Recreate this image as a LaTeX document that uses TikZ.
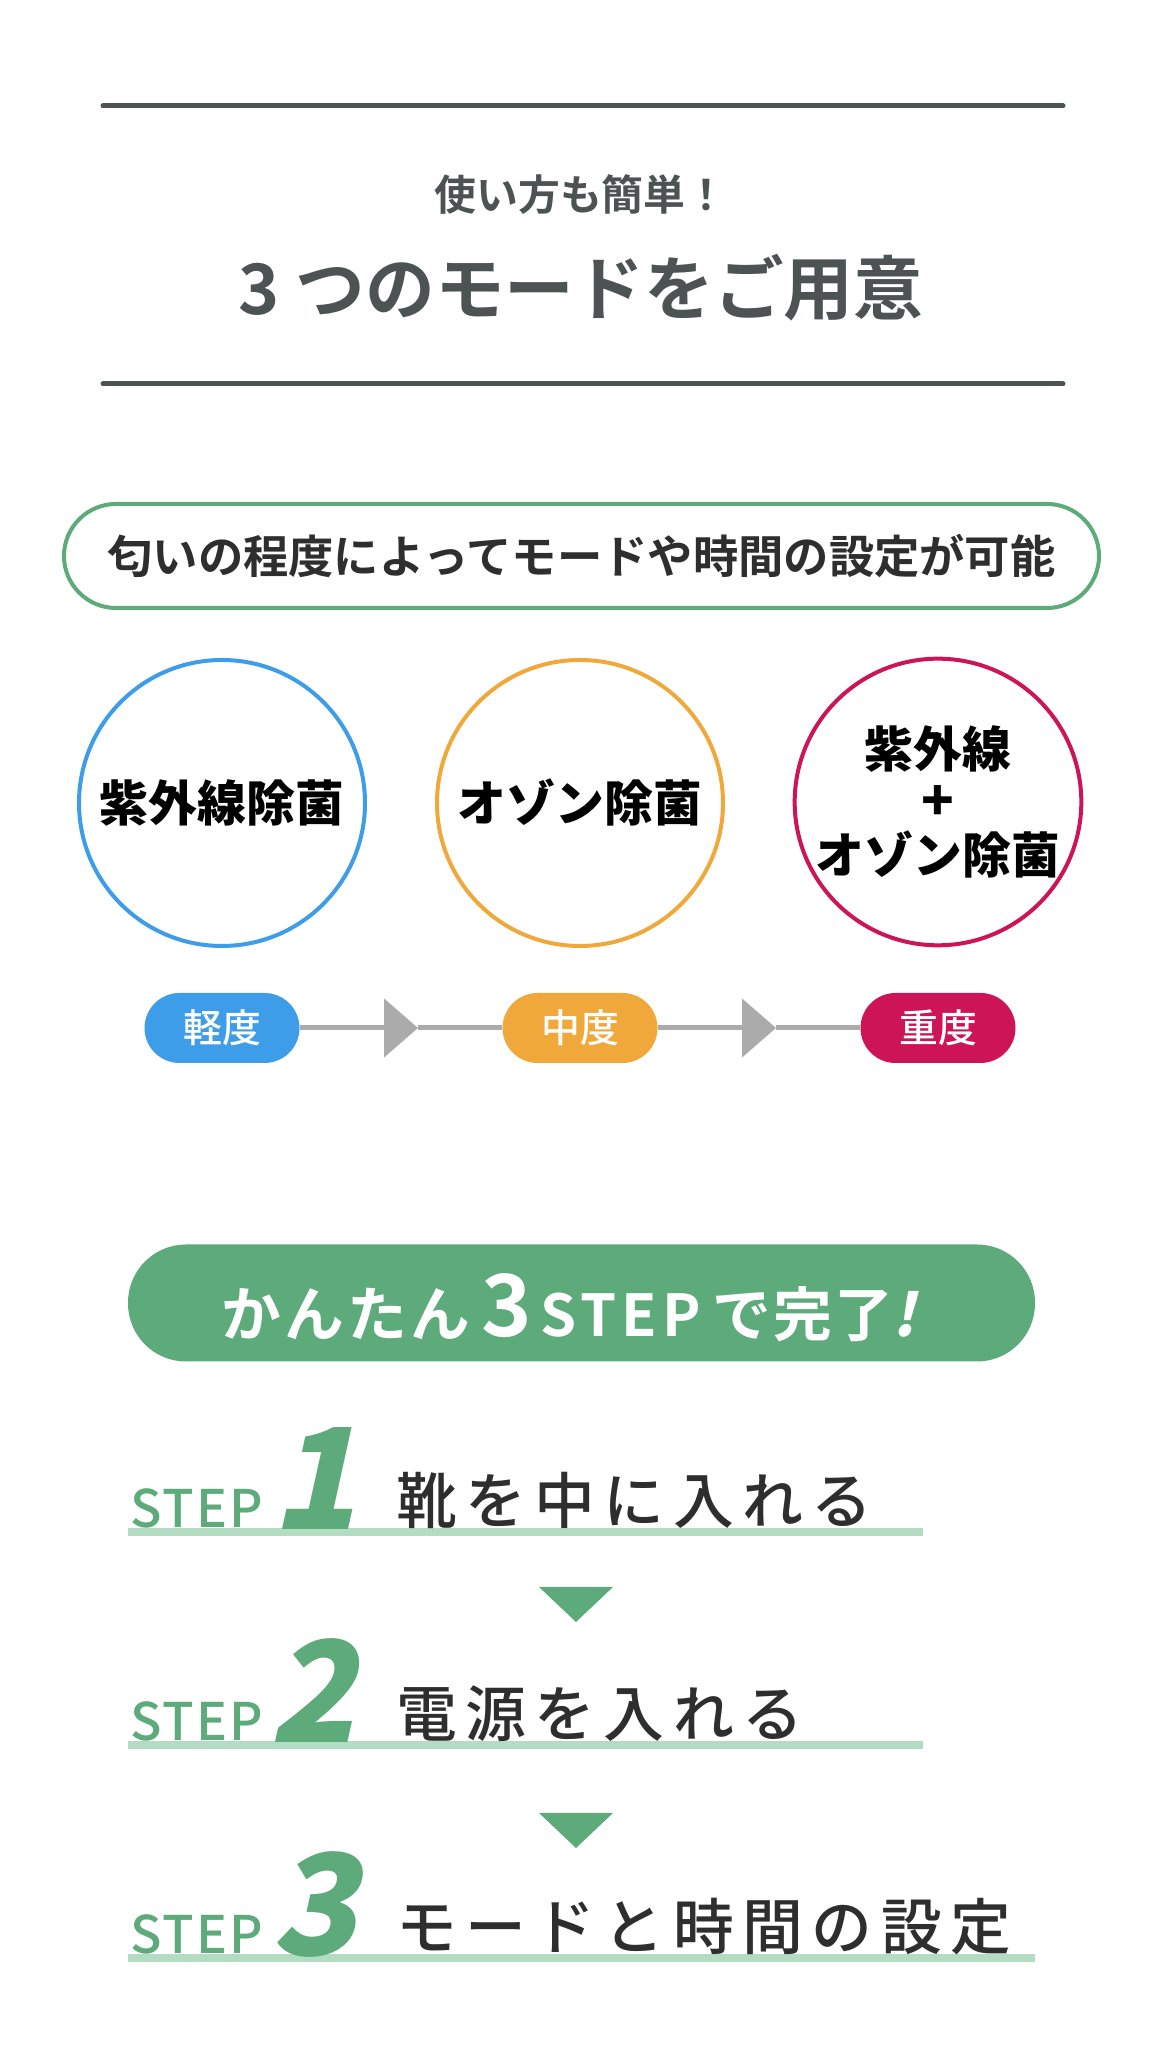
\documentclass[tikz,border=0pt]{standalone}
\usepackage{fontspec}
\setmainfont{Noto Sans CJK JP}
\newfontfamily\jpmedium{Noto Sans CJK JP Medium}
\newfontfamily\jpbold{Noto Sans CJK JP Bold}
\newfontfamily\jpblack{Noto Sans CJK JP Black}
\newfontfamily\jpnum[FakeSlant=0.22]{Noto Sans CJK JP Black}
\usetikzlibrary{arrows.meta}
\definecolor{titlegray}{HTML}{4D5253}
\definecolor{textdark}{HTML}{2E2E2E}
\definecolor{modegreen}{HTML}{5DAA7A}
\definecolor{lightgreen}{HTML}{B3DCC3}
\definecolor{uvblue}{HTML}{3E9DE8}
\definecolor{ozorange}{HTML}{F0A83A}
\definecolor{mixred}{HTML}{CD1457}
\definecolor{linegray}{HTML}{ABABAB}
\begin{document}
\begin{tikzpicture}[>=latex,line join=bevel,
  rule/.style={line width=5bp,draw=titlegray,line cap=round},
  mode ring/.style={circle,line width=4bp,minimum size=286bp,inner sep=0pt,font=\jpblack\fontsize{49}{53}\selectfont},
  level pill/.style={rectangle,rounded corners=35bp,minimum width=155bp,minimum height=70bp,inner sep=0pt,text=white,font=\jpmedium\fontsize{39}{39}\selectfont},
  link/.style={line width=5bp,draw=linegray},
  stepline/.style={line width=8bp,draw=lightgreen},
  steplabel/.style={anchor=base west,inner sep=0pt,text=modegreen,font=\jpmedium\fontsize{52}{52}\selectfont\addfontfeature{LetterSpace=4}},
  stepnum/.style={anchor=base,inner sep=0pt,text=modegreen,font=\jpnum\fontsize{141}{141}\selectfont},
  steptext/.style={anchor=base west,inner sep=0pt,text=textdark,font=\jpmedium\fontsize{61}{61}\selectfont\addfontfeature{LetterSpace=14}},
]
\useasboundingbox (0bp,0bp) rectangle (1160bp,2062bp);
%%
\coordinate (rule_top_l) at (103bp,1956bp);
  \coordinate (rule_top_r) at (1063bp,1956bp);
  \coordinate (rule_bot_l) at (103bp,1678bp);
  \coordinate (rule_bot_r) at (1063bp,1678bp);
  \draw [rule] (rule_top_l) -- (rule_top_r);
  \draw [rule] (rule_bot_l) -- (rule_bot_r);
  \node (node_sub) at (581bp,1867bp) [text=titlegray,font=\jpbold\fontsize{42}{42}\selectfont] {使い方も簡単！};
  \node (node_title) at (581bp,1774bp) [text=titlegray,font=\jpbold\fontsize{70}{70}\selectfont] {3 つのモードをご用意};
%%
\node (node_hint) at (581.5bp,1506bp) [rectangle,rounded corners=52bp,draw=modegreen,line width=4bp,minimum width=1035bp,minimum height=104bp,text=textdark,font=\jpbold\fontsize{45.5}{45.5}\selectfont] {匂いの程度によってモードや時間の設定が可能};
%%
\node (node_uv) at (222bp,1259bp) [mode ring,draw=uvblue] {紫外線除菌};
  \node (node_ozone) at (580bp,1259bp) [mode ring,draw=ozorange] {オゾン除菌};
  \node (node_mix) at (938bp,1260bp) [mode ring,draw=mixred,align=center] {紫外線\\{\fontsize{54}{53}\selectfont +}\\オゾン除菌};
%%
\node (node_light) at (222bp,1034bp) [level pill,fill=uvblue] {軽度};
  \node (node_medium) at (580bp,1034bp) [level pill,fill=ozorange] {中度};
  \node (node_heavy) at (938bp,1034bp) [level pill,fill=mixred] {重度};
  \coordinate (tip_a) at (418bp,1034bp);
  \coordinate (tip_b) at (776bp,1034bp);
  \draw [link,-{Triangle[length=34bp,width=58bp]}] (node_light) -- (tip_a);
  \draw [link] (tip_a) -- (node_medium);
  \draw [link,-{Triangle[length=34bp,width=58bp]}] (node_medium) -- (tip_b);
  \draw [link] (tip_b) -- (node_heavy);
%%
\node (node_banner) at (581.5bp,759bp) [rectangle,rounded corners=58bp,fill=modegreen,minimum width=907bp,minimum height=117bp] {};
  \node (node_banner_text) at (569bp,725bp) [anchor=base,inner sep=0pt,text=white] {{\jpbold\fontsize{60}{60}\selectfont\addfontfeature{LetterSpace=5}かんたん}\hspace{12bp}{\jpbold\fontsize{86}{86}\selectfont 3}\hspace{8bp}{\jpbold\fontsize{58}{58}\selectfont\addfontfeature{LetterSpace=9}STEP}\hspace{12bp}{\jpbold\fontsize{59}{59}\selectfont\addfontfeature{LetterSpace=3}で完了{\jpnum !}}};
%%
\coordinate (line_a_l) at (128bp,530bp);
  \coordinate (line_a_r) at (923bp,530bp);
  \coordinate (line_b_l) at (128bp,317bp);
  \coordinate (line_b_r) at (923bp,317bp);
  \coordinate (line_c_l) at (128bp,104bp);
  \coordinate (line_c_r) at (1035bp,104bp);
  \draw [stepline] (line_a_l) -- (line_a_r);
  \draw [stepline] (line_b_l) -- (line_b_r);
  \draw [stepline] (line_c_l) -- (line_c_r);
  \node (step_a) at (130bp,534bp) [steplabel] {STEP};
  \node (num_a) at (314bp,532bp) [stepnum] {1};
  \node (text_a) at (396bp,538bp) [steptext] {靴を中に入れる};
  \node (step_b) at (130bp,321bp) [steplabel] {STEP};
  \node (num_b) at (312bp,319bp) [stepnum] {2};
  \node (text_b) at (396bp,325bp) [steptext] {電源を入れる};
  \node (step_c) at (130bp,108bp) [steplabel] {STEP};
  \node (num_c) at (314bp,106bp) [stepnum] {3};
  \node (text_c) at (396bp,112bp) [steptext] {モードと時間の設定};
  \fill [modegreen] (539bp,475bp) -- (613bp,475bp) -- (576bp,440bp) -- cycle;
  \fill [modegreen] (539bp,249bp) -- (613bp,249bp) -- (576bp,214bp) -- cycle;
%
\end{tikzpicture}
\end{document}
